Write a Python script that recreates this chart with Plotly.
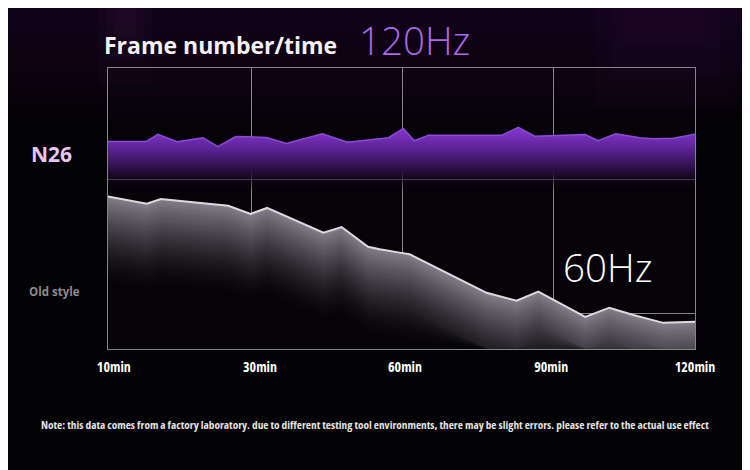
import numpy as np
import plotly.graph_objects as go

# x is a 0-100 position scale across the frame, y a 0-100 frame-rate scale
tick_pos = [0, 24.4, 50.2, 75.9, 100]
tick_labels = ["10min", "30min", "60min", "90min", "120min"]
label_pos = [1.0, 25.9, 50.6, 75.5, 100]
grid_y = [12.5, 60.5]

hz120_x = [0, 6.5, 8.5, 11.8, 16.2, 18.7, 21.8, 27.0, 30.4, 36.5, 40.8, 47.8, 50.3,
           52.2, 54.6, 67.1, 69.9, 72.7, 81.3, 83.5, 86.5, 90.6, 92.9, 96.3, 100]
hz120_y = [73.8, 73.8, 76.4, 73.8, 75.2, 72.0, 75.6, 75.3, 73.1, 76.6, 73.6, 75.2, 78.5,
           74.1, 76.1, 76.1, 78.9, 75.7, 76.3, 74.1, 76.6, 75.2, 74.8, 75.0, 76.4]

hz60_x = [0, 6.6, 9.0, 16.8, 20.5, 24.3, 27.1, 36.7, 39.8, 44.3, 46.3, 49.7, 51.4,
          64.5, 69.6, 73.3, 81.3, 85.4, 89.5, 94.6, 100]
hz60_y = [54.3, 51.7, 53.4, 51.9, 51.0, 48.1, 50.2, 41.4, 43.4, 36.4, 35.5, 34.3, 33.7,
          20.0, 17.2, 20.4, 11.4, 14.7, 12.1, 9.3, 9.7]

title = "Frame number/time"
note = ("Note: this data comes from a factory laboratory. due to different testing tool "
        "environments, there may be slight errors. please refer to the actual use effect")

W, H = 750, 470
OFF = 8  # page body margin
L, R, T, B = 108 - OFF, 695 - OFF, 68 - OFF, 349 - OFF


def px(x):
    return (x - OFF - L) / (R - L)


def py(y):
    return (B - (y - OFF)) / (B - T)


def narrow(s, pct=75):
    return '<span style="font-stretch:%g%%">%s</span>' % (pct, s)


FONT = "Open Sans, Noto Sans, sans-serif"

fig = go.Figure()

# 120Hz purple area
fig.add_trace(go.Scatter(
    x=hz120_x, y=hz120_y, mode="lines", fill="tozeroy",
    line=dict(color="#8c4ad6", width=1.5),
    fillgradient=dict(type="vertical", start=56, stop=77,
                      colorscale=[[0, "rgba(8,3,12,0)"], [0.35, "rgba(38,13,60,1)"],
                                  [0.75, "rgba(94,36,154,1)"], [1, "rgb(124,52,196)"]]),
    hoverinfo="skip", showlegend=False))

# 60Hz grey area: stacked bands that darken below the line
y60 = np.array(hz60_y)
n_bands = 36
step = 0.9
for k in range(n_bands):
    t = k / (n_bands - 1)
    f = (1 - t) ** 1.6
    c = "rgb(%d,%d,%d)" % (6 + 122 * f, 4 + 120 * f, 8 + 126 * f)
    fig.add_trace(go.Scatter(
        x=hz60_x, y=np.maximum(y60 - k * step, 0), mode="lines", fill="tozeroy",
        fillcolor=c, line=dict(width=0), hoverinfo="skip", showlegend=False))

fig.add_trace(go.Scatter(
    x=hz60_x, y=hz60_y, mode="lines", line=dict(color="#dcdadf", width=2),
    hoverinfo="skip", showlegend=False))

# top purple haze
shapes = []
for h in range(12, 132, 12):
    shapes.append(dict(type="rect", xref="paper", yref="paper", layer="below",
                       x0=px(0), x1=px(W + OFF), y0=py(h), y1=py(0),
                       fillcolor="rgba(40,14,50,0.08)", line=dict(width=0)))
for x0, x1, h, a in [(98, 152, 85, 0.045), (106, 144, 60, 0.045), (114, 136, 35, 0.045),
                     (595, 735, 105, 0.04), (610, 720, 75, 0.04), (625, 705, 45, 0.04)]:
    shapes.append(dict(type="rect", xref="paper", yref="paper", layer="below",
                       x0=px(x0), x1=px(x1), y0=py(h), y1=py(0),
                       fillcolor="rgba(110,60,125,%g)" % a, line=dict(width=0)))

annotations = [
    dict(text="<b>" + title + "</b>", x=px(102), y=py(45), xanchor="left", yanchor="middle",
         font=dict(family=FONT, size=23, color="#f4f2f6")),
    dict(text="120Hz", x=px(357), y=py(40), xanchor="left", yanchor="middle",
         font=dict(family=FONT, size=38.5, color="#a868e8", weight=300)),
    dict(text="60Hz", x=px(561), y=py(267), xanchor="left", yanchor="middle",
         font=dict(family=FONT, size=38.5, color="#ffffff", weight=300)),
    dict(text="<b>N26</b>", x=px(51.5), y=py(154), xanchor="center", yanchor="middle",
         font=dict(family=FONT, size=21, color="#e6c6f2")),
    dict(text="<b>Old style</b>", x=px(54.5), y=py(291), xanchor="center", yanchor="middle",
         font=dict(family=FONT, size=11.5, color="#8c8a8e")),
    dict(text=narrow("<b>" + note + "</b>"), x=px(375), y=py(424), xanchor="center",
         yanchor="middle", font=dict(family=FONT, size=11.3, color="#e2e2e2")),
]
for a in annotations:
    a.update(xref="paper", yref="paper", showarrow=False)

fig.update_layout(
    width=W, height=H,
    margin=dict(l=L, r=W - R, t=T, b=H - B, pad=0),
    paper_bgcolor="#030204", plot_bgcolor="#050307",
    shapes=shapes, annotations=annotations,
    xaxis=dict(range=[0, 100], tickvals=label_pos,
               ticktext=[narrow("<b>" + s + "</b>") for s in tick_labels],
               showgrid=False, zeroline=False, showline=True, mirror=True,
               linecolor="#858585", linewidth=1, ticks="",
               tickfont=dict(family=FONT, size=14, color="#ffffff"),
               ticklabelstandoff=5, layer="above traces",
               minor=dict(tickmode="array", tickvals=tick_pos, showgrid=True,
                          gridcolor="#858585", gridwidth=1, ticks="")),
    yaxis=dict(range=[0, 100], tickvals=grid_y, showticklabels=False, showgrid=True,
               gridcolor="#858585", gridwidth=1, zeroline=False, showline=True, mirror=True,
               linecolor="#858585", linewidth=1, ticks="", layer="above traces"),
)

fig.write_html("out.html")
